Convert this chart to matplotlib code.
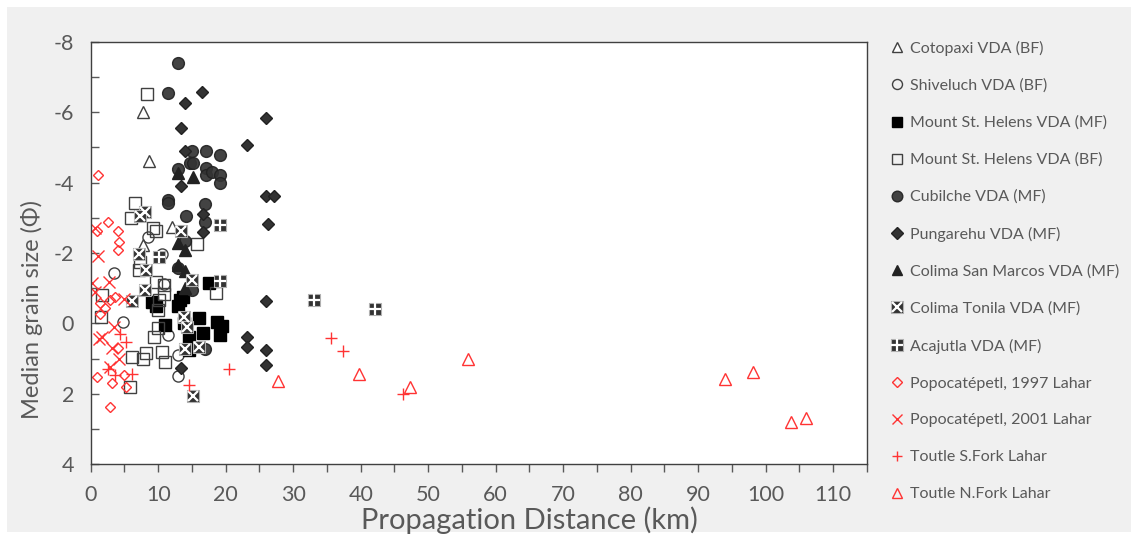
import matplotlib
matplotlib.use("Agg")
import matplotlib.pyplot as plt
from matplotlib.patches import Rectangle
from matplotlib.ticker import MultipleLocator

# propagation distance (km), median grain size (phi) per series
coto_x = [7.7, 8.7, 12.0, 7.8]
coto_y = [-6.01, -4.62, -2.75, -2.23]

shiv_x = [8.5, 10.5, 3.5, 10.9, 4.8, 11.4, 12.9, 13.0]
shiv_y = [-2.45, -1.97, -1.44, -1.12, -0.05, 0.33, 0.90, 1.49]

mshmf_x = [17.5, 9.1, 13.3, 13.0, 13.6, 11.0, 14.5, 16.0, 18.7, 19.5, 19.2, 16.7, 14.5, 13.8, 9.6]
mshmf_y = [-1.15, -0.60, -0.66, -0.50, -0.75, 0.06, 0.38, -0.14, -0.05, 0.08, 0.33, 0.27, 0.76, 0.0, -0.50]

mshbf_x = [8.4, 6.6, 5.9, 9.3, 9.7, 15.8, 7.3, 7.1, 18.5, 9.7, 10.8, 10.9, 10.1, 10.0,
           1.6, 1.5, 10.0, 9.4, 6.1, 7.7, 8.2, 10.5, 11.0, 5.8]
mshbf_y = [-6.52, -3.41, -3.00, -2.70, -2.62, -2.25, -1.75, -1.52, -0.85, -1.18, -1.09, -0.83, -0.66, -0.38,
           -0.80, -0.17, 0.14, 0.38, 0.95, 1.00, 0.85, 0.81, 1.09, 1.80]

cubi_x = [12.9, 11.5, 15.0, 17.1, 19.1, 14.7, 15.2, 12.9, 17.1, 17.1, 17.9, 19.1, 19.1,
          11.5, 11.5, 16.9, 14.1, 17.0, 14.0, 12.9, 17.0, 15.0]
cubi_y = [-7.41, -6.56, -4.91, -4.91, -4.80, -4.55, -4.55, -4.38, -4.43, -4.21, -4.29, -4.21, -4.00,
          -3.50, -3.41, -3.39, -3.06, -2.87, -2.35, -1.56, 0.74, -0.95]

pung_x = [16.5, 14.0, 25.9, 13.4, 23.1, 14.0, 13.4, 25.9, 27.1, 16.6, 16.6, 26.3,
          25.9, 23.1, 23.1, 25.9, 25.9, 13.4]
pung_y = [-6.58, -6.27, -5.83, -5.56, -5.06, -4.90, -3.90, -3.62, -3.62, -3.10, -2.59, -2.83,
          -0.63, 0.38, 0.67, 0.76, 1.19, 1.28]

csm_x = [12.9, 15.1, 12.9, 14.0, 12.9, 14.0, 14.0]
csm_y = [-4.28, -4.15, -2.29, -2.08, -1.66, -1.50, -1.00]

cton_x = [8.1, 7.3, 13.4, 7.1, 8.2, 6.1, 8.1, 15.0, 13.8, 14.2, 14.0, 16.0, 15.1]
cton_y = [-3.17, -3.05, -2.62, -1.97, -1.52, -0.63, -0.95, -1.23, -0.19, 0.10, 0.74, 0.67, 2.07]

acaj_x = [19.1, 10.1, 19.1, 33.1, 42.1]
acaj_y = [-2.81, -1.89, -1.21, -0.66, -0.42]

p97_x = [1.1, 2.6, 0.9, 4.0, 4.2, 4.0, 3.6, 1.4, 2.1, 4.1, 0.9, 3.1, 5.0, 5.3, 2.9, 1.4, 2.9]
p97_y = [-4.22, -2.88, -2.63, -2.62, -2.31, -2.08, -0.76, -0.57, -0.43, 0.71, 1.52, 1.69, 1.47, 1.82, 2.39, -0.27, -0.65]

p01_x = [0.6, 1.1, 0.15, 2.7, 0.6, 5.0, 1.6, 3.1, 4.2, 2.9, 1.3, 3.5]
p01_y = [-2.72, -1.92, -1.14, -1.18, -0.90, -0.68, 0.38, 0.71, 1.00, 1.23, 0.45, 0.10]

tsf_x = [4.4, 5.3, 2.5, 3.6, 6.1, 20.5, 14.6, 35.6, 37.4, 46.3]
tsf_y = [0.30, 0.52, 1.31, 1.47, 1.44, 1.31, 1.75, 0.41, 0.78, 2.01]

tnf_x = [27.7, 39.7, 47.3, 55.9, 94.0, 98.1, 103.7, 106.0]
tnf_y = [1.63, 1.45, 1.82, 1.02, 1.59, 1.39, 2.80, 2.68]

grey = "#595959"
dark = "#333333"
red = "#ff3333"

plt.rcParams["font.family"] = ["Lato", "DejaVu Sans"]
plt.rcParams["axes.unicode_minus"] = False

fig = plt.figure(figsize=(11.36, 5.35), dpi=100)
fig.patch.set_facecolor("white")
fig.patches.append(Rectangle((7 / 1136, 3 / 535), 1124 / 1136, 525 / 535,
                             transform=fig.transFigure, facecolor="#f0f0f0",
                             edgecolor="none", zorder=-10))
ax = fig.add_axes([90.7 / 1136, 1 - 464 / 535, 776.3 / 1136, 422 / 535])
ax.set_facecolor("white")

ms = 7.5
sq = 8.5
handles = []
h = ax.plot(coto_x, coto_y, "^", ls="none", ms=ms + 0.5, mfc="white", mec="#404040", mew=1.0)[0]
handles.append((h, "Cotopaxi VDA (BF)"))
h = ax.plot(shiv_x, shiv_y, "o", ls="none", ms=ms + 0.5, mfc="none", mec="#404040", mew=1.0)[0]
handles.append((h, "Shiveluch VDA (BF)"))
h = ax.plot(mshmf_x, mshmf_y, "s", ls="none", ms=sq, mfc="black", mec="black")[0]
handles.append((h, "Mount St. Helens VDA (MF)"))
h = ax.plot(mshbf_x, mshbf_y, "s", ls="none", ms=sq, mfc="none", mec="#404040", mew=1.0)[0]
handles.append((h, "Mount St. Helens VDA (BF)"))
h = ax.plot(cubi_x, cubi_y, "o", ls="none", ms=ms + 1, mfc=dark, mec="#222222", alpha=0.92)[0]
handles.append((h, "Cubilche VDA (MF)"))
h = ax.plot(pung_x, pung_y, "D", ls="none", ms=ms - 1.2, mfc=dark, mec="#222222")[0]
handles.append((h, "Pungarehu VDA (MF)"))
h = ax.plot(csm_x, csm_y, "^", ls="none", ms=ms + 0.5, mfc="#222222", mec="#222222")[0]
handles.append((h, "Colima San Marcos VDA (MF)"))
h1 = ax.plot(cton_x, cton_y, "s", ls="none", ms=sq + 0.5, mfc=dark, mec="#b0b0b0", mew=0.8)[0]
h2 = ax.plot(cton_x, cton_y, "x", ls="none", ms=sq - 1, mec="white", mew=1.6)[0]
handles.append(((h1, h2), "Colima Tonila VDA (MF)"))
h1 = ax.plot(acaj_x, acaj_y, "s", ls="none", ms=sq + 0.5, mfc=dark, mec="#b0b0b0", mew=0.8)[0]
h2 = ax.plot(acaj_x, acaj_y, "+", ls="none", ms=sq + 0.5, mec="white", mew=1.6)[0]
handles.append(((h1, h2), "Acajutla VDA (MF)"))
h = ax.plot(p97_x, p97_y, "D", ls="none", ms=ms - 2, mfc="none", mec=red, mew=1.0)[0]
handles.append((h, "Popocatépetl, 1997 Lahar"))
h = ax.plot(p01_x, p01_y, "x", ls="none", ms=ms + 1, mec=red, mew=1.0)[0]
handles.append((h, "Popocatépetl, 2001 Lahar"))
h = ax.plot(tsf_x, tsf_y, "+", ls="none", ms=ms + 1, mec=red, mew=1.0)[0]
handles.append((h, "Toutle S.Fork Lahar"))
h = ax.plot(tnf_x, tnf_y, "^", ls="none", ms=ms + 0.5, mfc="none", mec=red, mew=1.0)[0]
handles.append((h, "Toutle N.Fork Lahar"))

ax.set_xlim(0, 115)
ax.set_ylim(4, -8)
ax.xaxis.set_major_locator(MultipleLocator(10))
ax.xaxis.set_minor_locator(MultipleLocator(5))
ax.yaxis.set_major_locator(MultipleLocator(2))
ax.yaxis.set_minor_locator(MultipleLocator(1))
ax.xaxis.set_major_formatter(lambda v, p: f"{v:g}" if v <= 110 else "")
ax.tick_params(axis="x", which="both", direction="out", length=6, width=1,
               color=grey, labelsize=15.5, labelcolor=grey, pad=9)
ax.tick_params(axis="y", which="both", direction="in", length=6, width=1,
               color=grey, labelsize=15.5, labelcolor=grey, pad=12)
for s in ax.spines.values():
    s.set_color("#404040")
    s.set_linewidth(1)

ax.set_xlabel("Propagation Distance (km)", fontsize=21, color=grey)
ax.set_ylabel("Median grain size (Φ)", fontsize=17, color=grey)
ax.xaxis.set_label_coords(0.565, -0.1)
ax.yaxis.set_label_coords(-0.062, 0.365)

leg = fig.legend([hh for hh, _ in handles], [lab for _, lab in handles],
                 loc="upper left", bbox_to_anchor=(890 / 1136, 1 - 41 / 535),
                 frameon=False, fontsize=11.5, labelcolor=grey, labelspacing=1.42,
                 handlelength=0.9, handletextpad=0.35, markerscale=0.9,
                 borderaxespad=0, borderpad=0)

fig.savefig("out.png", dpi=100, facecolor=fig.get_facecolor())
